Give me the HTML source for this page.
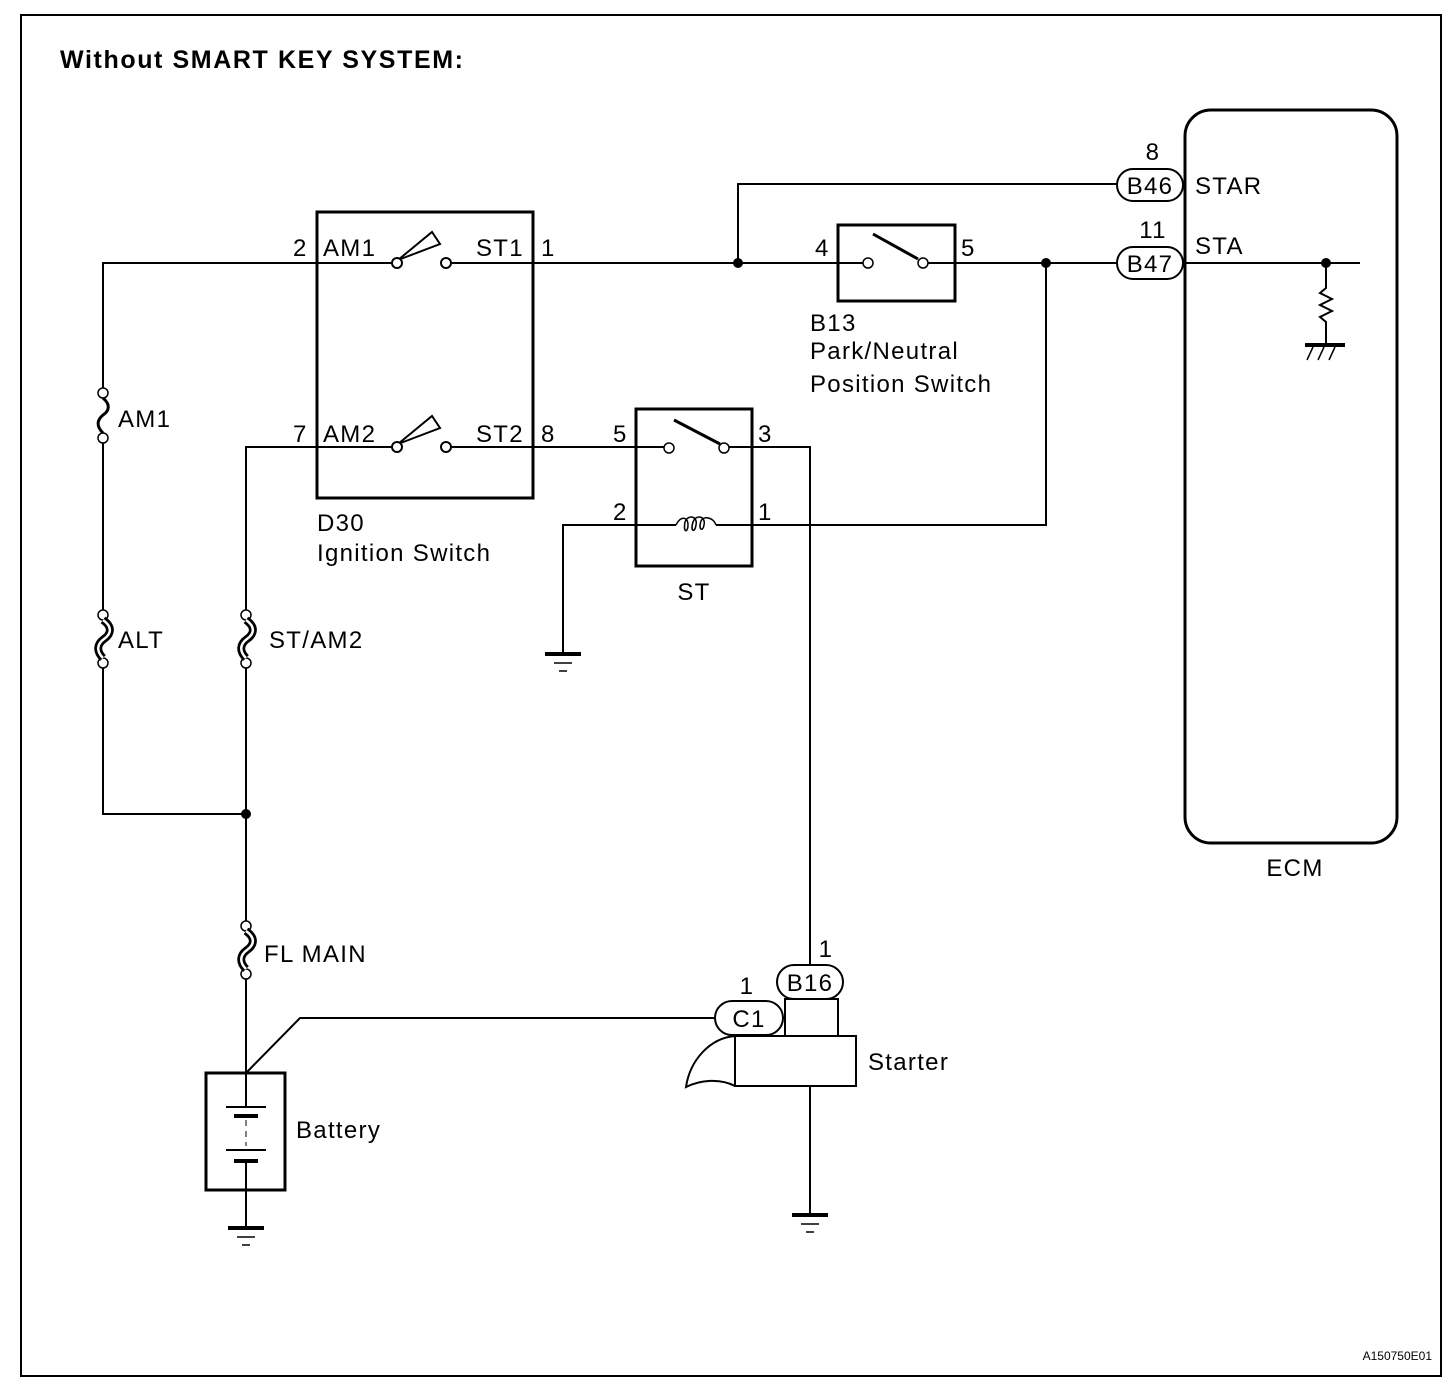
<!DOCTYPE html>
<html><head><style>
html,body{margin:0;padding:0;background:#fff}
svg{display:block}
text{font-family:"Liberation Sans",Arial,sans-serif;fill:#000}
</style></head><body>
<svg width="1456" height="1396" viewBox="0 0 1456 1396" xmlns="http://www.w3.org/2000/svg">
<defs>
<g id="gnd"><line x1="-18" y1="0" x2="18" y2="0" stroke="#000" stroke-width="4"/><line x1="-9" y1="9" x2="9" y2="9" stroke="#000" stroke-width="1.5"/><line x1="-4" y1="17" x2="4" y2="17" stroke="#000" stroke-width="1.5"/></g>
<g id="fuse"><circle cx="0" cy="0" r="5" fill="#fff" stroke="#000" stroke-width="1.5"/><circle cx="0" cy="45" r="5" fill="#fff" stroke="#000" stroke-width="1.5"/><path d="M0,5 C8,12 6,18 0,22 C-6,27 -7,33 0,40" fill="none" stroke="#000" stroke-width="3"/></g>
<g id="fuseH"><circle cx="0" cy="0" r="5" fill="#fff" stroke="#000" stroke-width="1.5"/><circle cx="0" cy="48" r="5" fill="#fff" stroke="#000" stroke-width="1.5"/><path d="M0,5 C10,12 8,19 1,24 C-6,29 -7,36 0,43" fill="none" stroke="#000" stroke-width="8"/><path d="M0,5 C10,12 8,19 1,24 C-6,29 -7,36 0,43" fill="none" stroke="#fff" stroke-width="2.5"/></g>
</defs>
<rect x="21" y="15" width="1420" height="1361" fill="none" stroke="#000" stroke-width="2"/>
<text x="60" y="68" font-size="25" font-weight="bold" letter-spacing="1.6">Without SMART KEY SYSTEM:</text>

<g stroke="#000" stroke-width="2" fill="none">
<polyline points="103,393 103,263 392,263"/>
<polyline points="451,263 863,263"/>
<polyline points="928,263 1117,263"/>
<polyline points="738,263 738,184 1117,184"/>
<polyline points="246,615 246,447 392,447"/>
<polyline points="451,447 664,447"/>
<polyline points="729,447 810,447 810,967"/>
<polyline points="563,654 563,525 676,525"/>
<polyline points="716,525 1046,525 1046,263"/>
<polyline points="103,438 103,615"/>
<polyline points="103,663 103,814 246,814"/>
<polyline points="246,663 246,925"/>
<polyline points="246,973 246,1107"/>
<polyline points="246,1161 246,1228"/>
<polyline points="246,1073 300,1018 715,1018"/>
<polyline points="810,1086 810,1215"/>
<polyline points="1185,263 1360,263"/>
<polyline points="1326,263 1326,288 1320,293 1332,299 1320,305 1332,311 1320,317 1326,322 1326,345"/>
</g>
<g fill="#000"><circle cx="738" cy="263" r="5"/><circle cx="1046" cy="263" r="5"/><circle cx="246" cy="814" r="5"/><circle cx="1326" cy="263" r="5"/></g>

<use href="#gnd" x="563" y="654"/>
<use href="#gnd" x="246" y="1228"/>
<use href="#gnd" x="810" y="1215"/>
<g stroke="#000"><line x1="1305" y1="345" x2="1345" y2="345" stroke-width="4"/><line x1="1313" y1="347" x2="1307" y2="360" stroke-width="1.5"/><line x1="1324" y1="347" x2="1318" y2="360" stroke-width="1.5"/><line x1="1335" y1="347" x2="1329" y2="360" stroke-width="1.5"/></g>

<use href="#fuse" x="103" y="393"/>
<use href="#fuseH" x="103" y="615"/>
<use href="#fuseH" x="246" y="615"/>
<use href="#fuseH" x="246" y="926"/>

<rect x="317" y="212" width="216" height="286" fill="none" stroke="#000" stroke-width="3"/>
<g stroke="#000" stroke-width="2" fill="#fff">
<polygon points="398,260 432,232 440,244"/>
<circle cx="397" cy="263" r="5"/><circle cx="446" cy="263" r="5"/>
<polygon points="398,444 432,416 440,428"/>
<circle cx="397" cy="447" r="5"/><circle cx="446" cy="447" r="5"/>
</g>

<rect x="838" y="225" width="117" height="76" fill="none" stroke="#000" stroke-width="3"/>
<line x1="873" y1="234" x2="918" y2="259" stroke="#000" stroke-width="3"/>
<circle cx="868" cy="263" r="5" fill="#fff" stroke="#000" stroke-width="1.5"/>
<circle cx="923" cy="263" r="5" fill="#fff" stroke="#000" stroke-width="1.5"/>

<rect x="636" y="409" width="116" height="157" fill="none" stroke="#000" stroke-width="3"/>
<line x1="674" y1="420" x2="720" y2="444" stroke="#000" stroke-width="3"/>
<circle cx="669" cy="448" r="5" fill="#fff" stroke="#000" stroke-width="1.5"/>
<circle cx="724" cy="448" r="5" fill="#fff" stroke="#000" stroke-width="1.5"/>
<path d="M676,525 C680,516 688,516 688,525 C688,533 683,533 685,522 C688,514 698,516 696,525 C695,533 690,532 693,522 C696,514 706,516 704,525 C703,532 698,530 701,521 C704,515 714,518 716,525" fill="none" stroke="#000" stroke-width="1.5"/>

<rect x="1185" y="110" width="212" height="733" rx="26" fill="none" stroke="#000" stroke-width="3"/>

<g fill="#fff" stroke="#000" stroke-width="2">
<rect x="1117" y="169" width="66" height="32" rx="16"/>
<rect x="1117" y="247" width="66" height="32" rx="16"/>
<rect x="715" y="1001" width="68" height="34" rx="17"/>
<rect x="777" y="965" width="66" height="34" rx="17"/>
</g>

<rect x="206" y="1073" width="79" height="117" fill="none" stroke="#000" stroke-width="3"/>
<g stroke="#000"><line x1="226" y1="1107" x2="266" y2="1107" stroke-width="2"/><line x1="234" y1="1116" x2="258" y2="1116" stroke-width="4"/><line x1="226" y1="1150" x2="266" y2="1150" stroke-width="2"/><line x1="234" y1="1161" x2="258" y2="1161" stroke-width="4"/></g>
<line x1="246" y1="1120" x2="246" y2="1146" stroke="#000" stroke-width="1" stroke-dasharray="6,5"/>

<rect x="785" y="999" width="53" height="37" fill="none" stroke="#000" stroke-width="2"/>
<rect x="735" y="1036" width="121" height="50" fill="none" stroke="#000" stroke-width="2"/>
<path d="M735,1036 C710,1038 690,1060 686,1087 C700,1080 720,1078 735,1086" fill="none" stroke="#000" stroke-width="2"/>

<g font-size="24" letter-spacing="1.3">
<text x="293" y="256">2</text><text x="323" y="256">AM1</text><text x="476" y="256">ST1</text><text x="541" y="256">1</text>
<text x="293" y="442">7</text><text x="323" y="442">AM2</text><text x="476" y="442">ST2</text><text x="541" y="442">8</text>
<text x="317" y="531">D30</text><text x="317" y="561">Ignition Switch</text>
<text x="815" y="256">4</text><text x="961" y="256">5</text>
<text x="810" y="331">B13</text><text x="810" y="359">Park/Neutral</text><text x="810" y="392">Position Switch</text>
<text x="613" y="442">5</text><text x="758" y="442">3</text>
<text x="613" y="520">2</text><text x="758" y="520">1</text>
<text x="694" y="600" text-anchor="middle">ST</text>
<text x="118" y="427">AM1</text><text x="118" y="648">ALT</text><text x="269" y="648">ST/AM2</text><text x="264" y="962">FL MAIN</text>
<text x="296" y="1138">Battery</text><text x="868" y="1070">Starter</text>
<text x="1153" y="160" text-anchor="middle">8</text><text x="1195" y="194">STAR</text>
<text x="1153" y="238" text-anchor="middle">11</text><text x="1195" y="254">STA</text>
<text x="1150" y="194" text-anchor="middle">B46</text><text x="1150" y="272" text-anchor="middle">B47</text>
<text x="749" y="1027" text-anchor="middle">C1</text><text x="810" y="991" text-anchor="middle">B16</text>
<text x="826" y="957" text-anchor="middle">1</text><text x="747" y="994" text-anchor="middle">1</text>
<text x="1295" y="876" text-anchor="middle">ECM</text>
</g>
<text x="1432" y="1360" font-size="12" text-anchor="end">A150750E01</text>
</svg>
</body></html>
